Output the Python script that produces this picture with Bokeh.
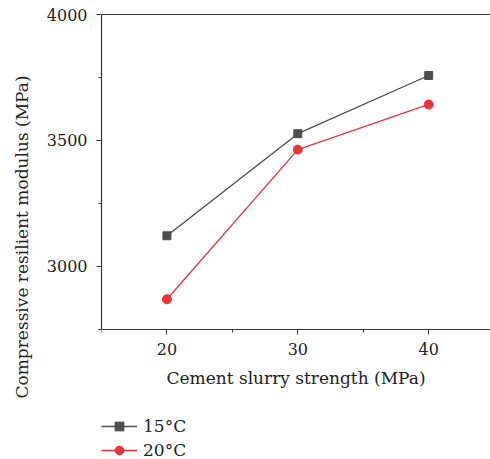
from bokeh.plotting import figure
from bokeh.models import LinearAxis, Legend, LegendItem, Range1d, FixedTicker
from bokeh.embed import file_html
from bokeh.resources import INLINE

strength = [20, 30, 40]
mod_15 = [3122, 3527, 3758]
mod_20 = [2870, 3464, 3643]
x_ticks = [20, 30, 40]
y_ticks = [3000, 3500, 4000]
y_axis_min, y_axis_max = 2750, 4000

FONT = "DejaVu Serif"
AX = "#333333"

# frame spans down to the bottom so the legend can sit below the x axis
p = figure(frame_width=389, frame_height=445, output_backend="svg", toolbar_location=None,
           x_range=Range1d(15, 44.72), y_range=Range1d(2234.1, y_axis_max),
           min_border_left=101, min_border_top=14, min_border_right=0, min_border_bottom=0)
p.grid.visible = False
p.outline_line_color = None
p.background_fill_color = "white"
p.border_fill_color = "white"

for ax in (p.xaxis[0], p.yaxis[0]):
    ax.axis_line_color = AX
    ax.axis_line_width = 1.2
    ax.major_tick_line_color = AX
    ax.minor_tick_line_color = AX
    ax.major_tick_in = 0
    ax.major_tick_out = 5
    ax.minor_tick_in = 0
    ax.minor_tick_out = 3
    ax.major_label_text_font = FONT
    ax.major_label_text_font_size = "16px"
    ax.major_label_text_color = "#222222"
    ax.axis_label_text_font = FONT
    ax.axis_label_text_font_size = "17px"
    ax.axis_label_text_font_style = "normal"
    ax.axis_label_text_color = "#222222"

p.xaxis[0].ticker = FixedTicker(ticks=x_ticks, minor_ticks=[15, 25, 35, 45])
p.yaxis[0].ticker = FixedTicker(ticks=y_ticks, minor_ticks=[2750, 3250, 3750])
p.xaxis[0].fixed_location = y_axis_min
p.yaxis[0].bounds = (y_axis_min, y_axis_max)
p.xaxis[0].axis_label = "Cement slurry strength (MPa)"
p.yaxis[0].axis_label = "Compressive resilient modulus (MPa)"
p.xaxis[0].major_label_standoff = 9
p.yaxis[0].major_label_standoff = 9
p.xaxis[0].axis_label_standoff = 9
p.yaxis[0].axis_label_standoff = 12

top = LinearAxis(ticker=FixedTicker(ticks=[]), major_label_text_font_size="0px",
                 axis_line_color=AX, axis_line_width=1.2, major_tick_out=0, minor_tick_out=0)
p.add_layout(top, "above")

c15 = "#4d4d4d"
c20 = "#e8333b"
l1 = p.line(strength, mod_15, line_color=c15, line_width=1.3)
m1 = p.scatter(strength, mod_15, marker="square", size=8, fill_color=c15, line_color=c15)
l2 = p.line(strength, mod_20, line_color=c20, line_width=1.3)
m2 = p.scatter(strength, mod_20, marker="circle", size=9, fill_color=c20, line_color=c20)

legend = Legend(items=[LegendItem(label="15°C", renderers=[l1, m1]),
                       LegendItem(label="20°C", renderers=[l2, m2])],
                location=(0, -2), orientation="vertical",
                label_text_font=FONT, label_text_font_size="17px", label_text_color="#222222",
                glyph_width=36, glyph_height=22, label_height=22, spacing=2,
                label_standoff=6, padding=0, margin=0,
                border_line_color=None, background_fill_alpha=0)
p.add_layout(legend, "center")

open("out.html", "w").write(file_html(p, INLINE))
